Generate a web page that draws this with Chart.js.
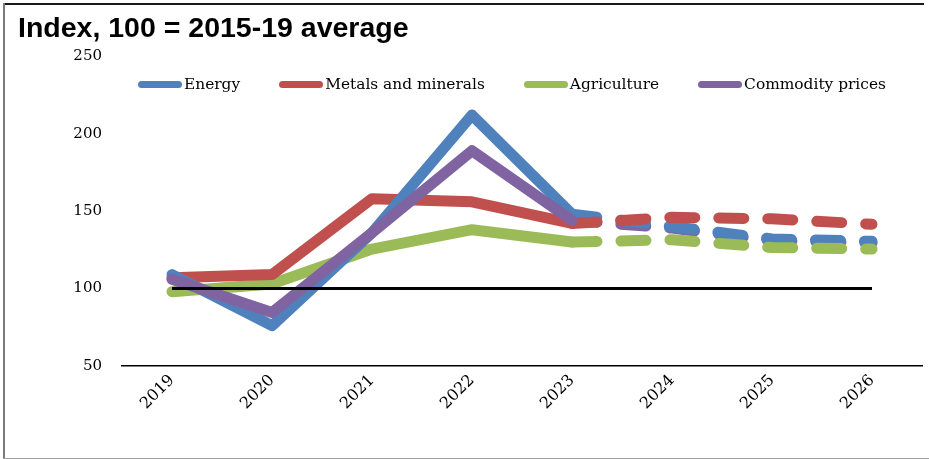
<!DOCTYPE html>
<html>
<head>
<meta charset="utf-8">
<title>Commodity price indices</title>
<script src="https://cdn.jsdelivr.net/npm/chart.js@4"></script>
<style>
    body { margin: 0; background: #fff; }
    #wrap { position: relative; width: 929px; height: 459px; }
    #frame-top { position: absolute; left: 3px; top: 3px; width: 921px; height: 2px; background: #1a1a1a; }
    #frame-left { position: absolute; left: 3px; top: 3px; width: 2px; height: 456px; background: #7a7a7a; }
    #frame-bottom { position: absolute; left: 3px; top: 458px; width: 926px; height: 1px; background: #a0a0a0; }
    #legend { position: absolute; left: 138px; top: 75px; height: 18px; display: flex; align-items: center; gap: 39px; }
    .item { display: flex; align-items: center; }
    .swatch { width: 44px; height: 7px; border-radius: 4px; }
    .label { margin-left: 2px; font: 15.4px "DejaVu Serif", serif; line-height: 18px; color: #000; }
</style>
</head>
<body>
<div id="wrap">
    <canvas id="myChart" width="929" height="459"></canvas>
    <div id="legend"></div>
    <div id="frame-top"></div>
    <div id="frame-left"></div>
    <div id="frame-bottom"></div>
</div>
<script>
// Index, 100 = 2015-19 average; 2023 onward are forecasts (dashed)
const years = ['2019', '2020', '2021', '2022', '2023', '2024', '2025', '2026'];
const energy      = [109, 76, 136, 212, 148, 140, 132, 130.5];
const metals      = [107, 109, 158, 156, 142, 146, 145, 141.5];
const agriculture = [98, 103, 125.5, 138, 130, 131.5, 126.5, 125.5];
const commodity   = [106, 84.5, 136, 189, 144, 139, 131, 129.5];
const baseline    = [100, 100, 100, 100, 100, 100, 100, 100];

const seriesNames  = ['Energy', 'Metals and minerals', 'Agriculture', 'Commodity prices'];
const seriesColors = ['#4F81BD', '#C0504D', '#9BBB59', '#8064A2'];
const seriesValues = [energy, metals, agriculture, commodity];

const forecastStart = 4; // index of 2023

// lower order = drawn on top
const solidOrder  = [2, 3, 4, 1];
const dashedOrder = [7, 5, 6, 8];

const datasets = [];
seriesValues.forEach((values, s) => {
    datasets.push({
        label: seriesNames[s],
        data: values.map((v, i) => i <= forecastStart ? v : null),
        borderColor: seriesColors[s],
        borderWidth: 11,
        order: solidOrder[s]
    });
    datasets.push({
        label: seriesNames[s] + ' (forecast)',
        data: values.map((v, i) => i >= forecastStart ? v : null),
        borderColor: seriesColors[s],
        borderWidth: 11,
        borderDash: [25, 24],
        order: dashedOrder[s]
    });
});
datasets.push({
    label: '100',
    data: baseline,
    borderColor: '#000',
    borderWidth: 3,
    borderCapStyle: 'butt',
    order: 0
});

const tickFont = { family: 'DejaVu Serif', size: 15 };

const myChart = new Chart(document.getElementById('myChart').getContext('2d'), {
    type: 'line',
    data: { labels: years, datasets: datasets },
    options: {
        responsive: false,
        animation: false,
        layout: { padding: { left: 18, right: 7, top: 0, bottom: 13 } },
        elements: {
            point: { radius: 0, hoverRadius: 0 },
            line: { tension: 0, borderCapStyle: 'round', borderJoinStyle: 'round', fill: false }
        },
        scales: {
            x: {
                offset: true,
                grid: { display: false },
                border: { display: true, color: '#000', width: 1.5 },
                ticks: { color: '#000', font: { family: 'DejaVu Serif', size: 16 }, minRotation: 45, maxRotation: 45, padding: -3 },
                afterFit: (scale) => { scale.height = 80; }
            },
            y: {
                min: 50,
                max: 250,
                grid: { display: false },
                border: { display: false },
                ticks: { stepSize: 50, color: '#000', font: tickFont, padding: 12 },
                afterFit: (scale) => { scale.width = 104; }
            }
        },
        plugins: {
            legend: { display: false },
            tooltip: { enabled: false },
            title: {
                display: true,
                text: 'Index, 100 = 2015-19 average',
                align: 'start',
                color: '#000',
                font: { family: 'Liberation Sans', size: 28.5, weight: 'bold' },
                padding: { top: 12, bottom: 10 }
            }
        }
    }
});

// legend drawn as html so it can sit inside the plot area
const legendBox = document.getElementById('legend');
seriesNames.forEach((name, s) => {
    const item = document.createElement('div');
    item.className = 'item';
    item.innerHTML = `<span class="swatch" style="background:${seriesColors[s]}"></span><span class="label">${name}</span>`;
    legendBox.appendChild(item);
});
</script>
</body>
</html>
